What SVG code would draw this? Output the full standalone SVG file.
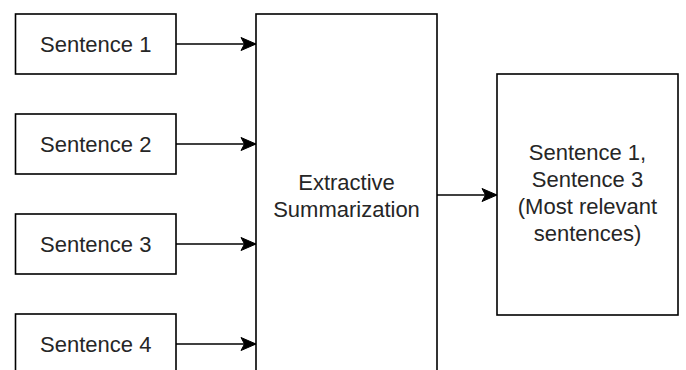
<svg xmlns="http://www.w3.org/2000/svg" width="686" height="370" viewBox="0 0 686 370">
  <style>
    .box { fill: #ffffff; stroke: #000000; stroke-width: 1.6; }
    .lbl { font-family: "Liberation Sans", Arial, sans-serif; font-size: 22px; fill: #262626; text-anchor: middle; }
    .edge { fill: none; stroke: #000000; stroke-width: 1.6; }
  </style>
  <defs>
    <marker id="arrow" markerUnits="userSpaceOnUse" markerWidth="18" markerHeight="16" refX="16" refY="8" orient="auto">
      <path d="M1,1.5 L16,8 L1,14.5 L4.5,8 Z" fill="#000000" stroke="#000000" stroke-width="1"/>
    </marker>
  </defs>
  <rect width="686" height="370" fill="#ffffff"/>

  <g id="sentence-1">
    <rect class="box" x="15.5" y="14" width="160.5" height="60"/>
    <text class="lbl" x="95.75" y="52">Sentence 1</text>
  </g>
  <g id="sentence-2">
    <rect class="box" x="15.5" y="114" width="160.5" height="60"/>
    <text class="lbl" x="95.75" y="152">Sentence 2</text>
  </g>
  <g id="sentence-3">
    <rect class="box" x="15.5" y="214" width="160.5" height="60"/>
    <text class="lbl" x="95.75" y="252">Sentence 3</text>
  </g>
  <g id="sentence-4">
    <rect class="box" x="15.5" y="314" width="160.5" height="60"/>
    <text class="lbl" x="95.75" y="352">Sentence 4</text>
  </g>

  <g id="extractive-summarization">
    <rect class="box" x="256" y="14" width="181" height="380"/>
    <text class="lbl" x="346.5" y="190">Extractive</text>
    <text class="lbl" x="346.5" y="217">Summarization</text>
  </g>

  <g id="summary-output">
    <rect class="box" x="497" y="74" width="181" height="241"/>
    <text class="lbl" x="587.5" y="160">Sentence 1,</text>
    <text class="lbl" x="587.5" y="187">Sentence 3</text>
    <text class="lbl" x="587.5" y="214">(Most relevant</text>
    <text class="lbl" x="587.5" y="241">sentences)</text>
  </g>

  <g id="connectors">
    <line class="edge" x1="176" y1="44" x2="256" y2="44" marker-end="url(#arrow)"/>
    <line class="edge" x1="176" y1="144" x2="256" y2="144" marker-end="url(#arrow)"/>
    <line class="edge" x1="176" y1="244" x2="256" y2="244" marker-end="url(#arrow)"/>
    <line class="edge" x1="176" y1="344" x2="256" y2="344" marker-end="url(#arrow)"/>
    <line class="edge" x1="437" y1="195" x2="497" y2="195" marker-end="url(#arrow)"/>
  </g>
</svg>
